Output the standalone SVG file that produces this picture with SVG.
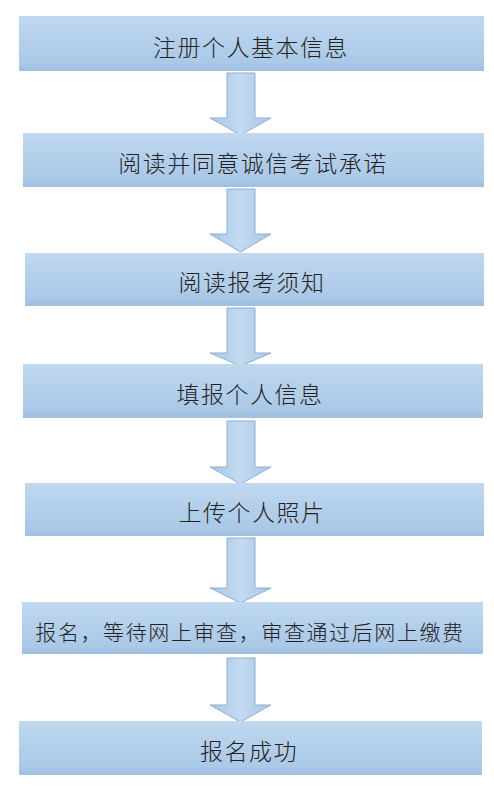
<svg xmlns="http://www.w3.org/2000/svg" width="494" height="786" viewBox="0 0 494 786">
<defs>
<linearGradient id="bg" x1="0" y1="0" x2="0" y2="1">
<stop offset="0" stop-color="#c0d8f0"/>
<stop offset="0.85" stop-color="#aac8e7"/>
<stop offset="1" stop-color="#9fbfe0"/>
</linearGradient>
<linearGradient id="ag" x1="0" y1="0" x2="1" y2="0">
<stop offset="0" stop-color="#a9c7e6"/>
<stop offset="0.5" stop-color="#c3daf1"/>
<stop offset="1" stop-color="#a9c7e6"/>
</linearGradient>
<style>
.box{fill:url(#bg);}
.arr{fill:url(#ag);stroke:#8eaed2;stroke-width:1;}
.t{font-family:"Noto Sans CJK SC","Noto Sans",sans-serif;font-weight:300;font-size:23px;fill:#222;text-anchor:middle;letter-spacing:1.5px;}
.s{font-size:21px;letter-spacing:1.6px;}
</style>
</defs>
<rect width="494" height="786" fill="#ffffff"/>
<g id="connectors">
<path class="arr" d="M227,73 H255 V118 H271 L240.5,135 L210,118 H227 Z"/>
<path class="arr" d="M227,189 H255 V234 H271 L240.5,252 L210,234 H227 Z"/>
<path class="arr" d="M227,308 H255 V353 H271 L240.5,366 L210,353 H227 Z"/>
<path class="arr" d="M227,421 H255 V467 H271 L240.5,484 L210,467 H227 Z"/>
<path class="arr" d="M227,538 H255 V588 H271 L240.5,603 L210,588 H227 Z"/>
<path class="arr" d="M227,658 H255 V705 H271 L240.5,722 L210,705 H227 Z"/>
</g>
<g id="n1"><rect class="box" x="19" y="16" width="465" height="55"/><text class="t" x="251" y="56">注册个人基本信息</text></g>
<g id="n2"><rect class="box" x="23" y="133" width="461" height="54"/><text class="t" x="253" y="172">阅读并同意诚信考试承诺</text></g>
<g id="n3"><rect class="box" x="25" y="253" width="459" height="53"/><text class="t" x="252" y="291">阅读报考须知</text></g>
<g id="n4"><rect class="box" x="23" y="364" width="460" height="54"/><text class="t" x="250" y="403">填报个人信息</text></g>
<g id="n5"><rect class="box" x="25" y="483" width="459" height="53"/><text class="t" x="252" y="521">上传个人照片</text></g>
<g id="n6"><rect class="box" x="22" y="602" width="461" height="52"/><text class="t s" x="250" y="640">报名，等待网上审查，审查通过后网上缴费</text></g>
<g id="n7"><rect class="box" x="19" y="721" width="463" height="54"/><text class="t" x="249" y="760">报名成功</text></g>
</svg>
